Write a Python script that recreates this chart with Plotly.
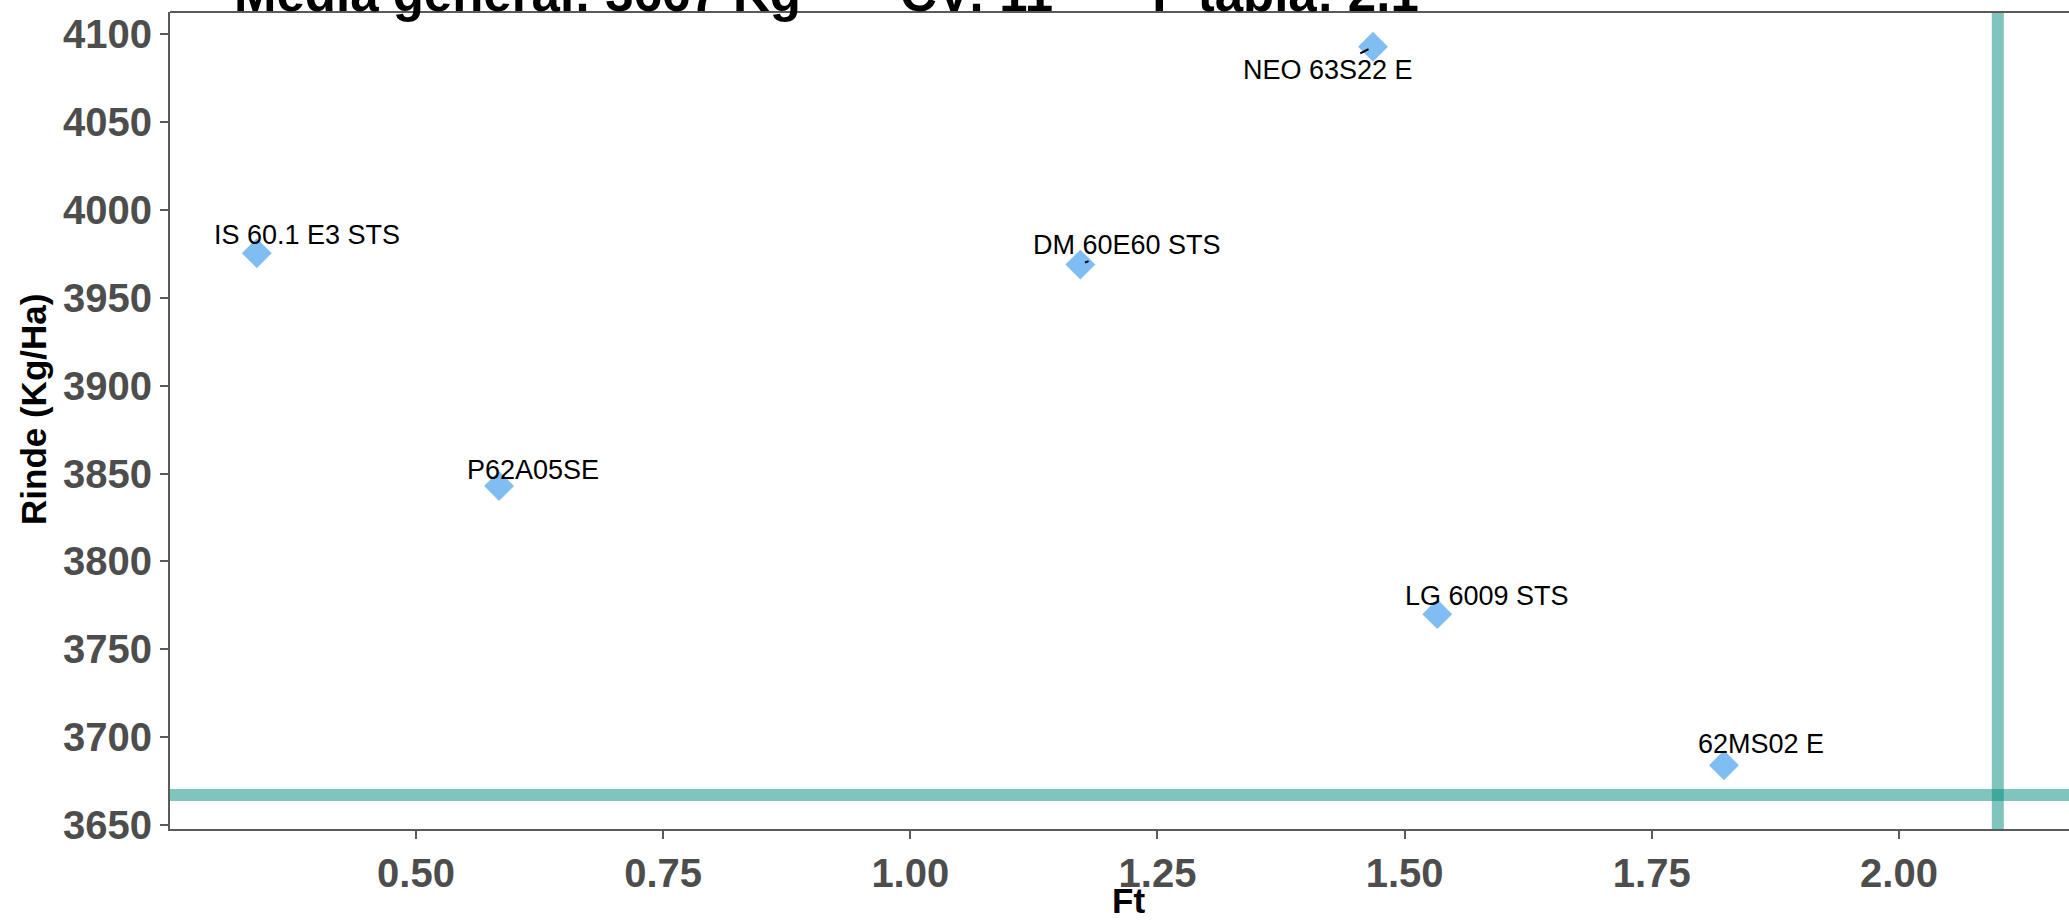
import plotly.graph_objects as go

# ---- data ----
genotypes = ["IS 60.1 E3 STS", "P62A05SE", "DM 60E60 STS", "NEO 63S22 E", "LG 6009 STS", "62MS02 E"]
ft = [0.339, 0.584, 1.172, 1.468, 1.533, 1.823]
rinde = [3975.5, 3843, 3969, 4093, 3770, 3684]
media_general = 3667
cv = 11
f_tabla = 2.1
y_ticks = [3650, 3700, 3750, 3800, 3850, 3900, 3950, 4000, 4050, 4100]
x_ticks = [0.50, 0.75, 1.00, 1.25, 1.50, 1.75, 2.00]

# ---- label placement (pixel offsets of label centre from point; segment drawn or not) ----
label_offsets = {
    "IS 60.1 E3 STS": (50, -18, False),
    "P62A05SE": (34, -16, False),
    "DM 60E60 STS": (47, -20, True),
    "NEO 63S22 E": (-45, 23, True),
    "LG 6009 STS": (50, -18, False),
    "62MS02 E": (37, -21, False),
}

W, H = 2069, 922
ML, MR, MT, MB = 170, 0, 12, 93
PW = W - ML - MR
PH = H - MT - MB
teal = "rgba(0,137,123,0.5)"
axis_col = "#5a5a5a"
FAM = "Liberation Sans, Arial"
tick_font = dict(family=FAM, size=40, color="#4D4D4D", weight="bold")
label_font = dict(family=FAM, size=27, color="black")
axis_title_font = dict(family=FAM, size=35, color="black")

fig = go.Figure()
fig.add_trace(go.Scatter(
    x=ft, y=rinde, mode="markers",
    marker=dict(symbol="diamond", size=23, color="#80BDF2", line=dict(width=0)),
    hovertext=genotypes, showlegend=False,
))

fig.add_hline(y=media_general, line=dict(color=teal, width=12), layer="below")
fig.add_vline(x=f_tabla, line=dict(color=teal, width=12), layer="below")

for g, xv, yv in zip(genotypes, ft, rinde):
    dx, dy, seg = label_offsets[g]
    if seg:
        fig.add_annotation(x=xv, y=yv, text=g, showarrow=True, ax=dx, ay=dy,
                           arrowhead=0, arrowwidth=2, arrowcolor="black",
                           standoff=5, font=label_font)
    else:
        fig.add_annotation(x=xv, y=yv, text=g, showarrow=False,
                           xshift=dx, yshift=-dy, xanchor="center", yanchor="middle",
                           font=label_font)

title_text = ("<b>Media general: %d Kg" + "\u00a0" * 7 + "CV: %d" + "\u00a0" * 7 +
              "F tabla: %s</b>") % (media_general, cv, f_tabla)
fig.add_annotation(xref="paper", yref="paper", x=(232 - ML) / PW, y=1,
                   xanchor="left", yanchor="bottom", yshift=-12, showarrow=False,
                   text=title_text,
                   font=dict(family=FAM, size=51, color="black"))

# axis titles
fig.add_annotation(xref="paper", yref="paper", x=(1128 - ML) / PW, y=0,
                   xanchor="center", yanchor="middle", yshift=-(900 - (MT + PH)),
                   showarrow=False, text="<b>Ft</b>", font=axis_title_font)
fig.add_annotation(xref="paper", yref="paper", x=0, y=(MT + PH - 410) / PH,
                   xanchor="center", yanchor="middle", xshift=33 - ML, textangle=-90,
                   showarrow=False, text="<b>Rinde (Kg/Ha)</b>", font=axis_title_font)

# top border of panel
fig.add_shape(type="line", xref="paper", yref="paper", x0=0, x1=1, y0=1, y1=1,
              line=dict(color=axis_col, width=2))

fig.update_layout(
    width=W, height=H,
    margin=dict(l=ML, r=MR, t=MT, b=MB, pad=0, autoexpand=False),
    paper_bgcolor="white", plot_bgcolor="white",
    xaxis=dict(range=[0.2512, 2.172], tickvals=x_ticks, ticktext=["%.2f" % v for v in x_ticks],
               showgrid=False, zeroline=False, showline=True, linecolor=axis_col, linewidth=2,
               ticks="outside", ticklen=8, tickwidth=2, tickcolor=axis_col,
               tickfont=tick_font, automargin=False),
    yaxis=dict(range=[3647.7, 4112.8], tickvals=y_ticks,
               showgrid=False, zeroline=False, showline=True, linecolor=axis_col, linewidth=2,
               ticks="outside", ticklen=8, tickwidth=2, tickcolor=axis_col,
               tickfont=tick_font, automargin=False),
)

fig.write_html("out.html", config={"displayModeBar": False},
               post_script="document.body.style.margin='0';document.body.style.overflow='hidden';")
